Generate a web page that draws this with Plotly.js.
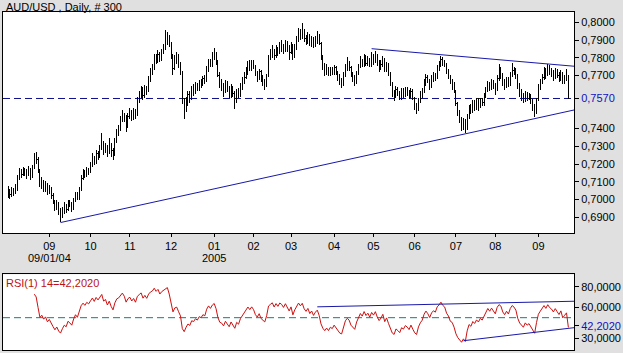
<!DOCTYPE html>
<html><head><meta charset="utf-8">
<script src="https://cdn.plot.ly/plotly-3.0.1.min.js"></script>
<style>html,body{margin:0;padding:0;background:#e0e0e0}#chart{width:623px;height:353px}
#chart .ohlc path{shape-rendering:crispEdges}</style>
</head><body><div id="chart"></div>
<script>
// ---- DATA ----
const firstDate = '2004-08-02';
const firstOpen = 0.7040;
const closes = [
0.7045,0.7030,0.7052,0.7040,0.7060,0.7125,0.7158,0.7140,0.7165,0.7150,
0.7140,0.7172,0.7125,0.7180,0.7240,0.7225,0.7160,0.7080,0.7100,0.7065,
0.7085,0.7040,0.7060,0.7020,0.6990,0.6955,0.6975,0.6930,0.6905,0.6935,
0.6960,0.6945,0.6985,0.6970,0.6950,0.6995,0.7030,0.7010,0.7055,0.7120,
0.7150,0.7135,0.7170,0.7160,0.7195,0.7230,0.7210,0.7260,0.7245,0.7290,
0.7320,0.7280,0.7300,0.7265,0.7310,0.7275,0.7250,0.7330,0.7385,0.7400,
0.7450,0.7480,0.7460,0.7420,0.7470,0.7490,0.7465,0.7500,0.7475,0.7560,
0.7590,0.7620,0.7585,0.7630,0.7610,0.7680,0.7720,0.7740,0.7800,0.7780,
0.7820,0.7790,0.7835,0.7860,0.7890,0.7920,0.7880,0.7810,0.7740,0.7790,
0.7800,0.7760,0.7720,0.7560,0.7510,0.7555,0.7590,0.7570,0.7620,0.7610,
0.7640,0.7625,0.7660,0.7650,0.7680,0.7670,0.7740,0.7780,0.7760,0.7800,
0.7820,0.7780,0.7700,0.7650,0.7640,0.7610,0.7650,0.7620,0.7590,0.7630,
0.7600,0.7560,0.7610,0.7590,0.7640,0.7670,0.7690,0.7720,0.7760,0.7740,
0.7770,0.7750,0.7710,0.7690,0.7720,0.7680,0.7660,0.7650,0.7700,0.7800,
0.7820,0.7840,0.7810,0.7850,0.7830,0.7870,0.7860,0.7840,0.7880,0.7850,
0.7830,0.7870,0.7810,0.7860,0.7900,0.7940,0.7920,0.7950,0.7910,0.7890,
0.7920,0.7880,0.7905,0.7870,0.7900,0.7920,0.7880,0.7800,0.7750,0.7720,
0.7740,0.7710,0.7735,0.7720,0.7745,0.7715,0.7690,0.7660,0.7650,0.7700,
0.7740,0.7760,0.7745,0.7700,0.7680,0.7660,0.7710,0.7750,0.7780,0.7760,
0.7800,0.7770,0.7790,0.7760,0.7800,0.7780,0.7810,0.7770,0.7740,0.7760,
0.7790,0.7730,0.7760,0.7710,0.7650,0.7600,0.7580,0.7620,0.7600,0.7575,
0.7610,0.7595,0.7620,0.7605,0.7580,0.7610,0.7570,0.7530,0.7510,0.7560,
0.7590,0.7610,0.7660,0.7690,0.7670,0.7640,0.7680,0.7700,0.7690,0.7740,
0.7760,0.7790,0.7770,0.7760,0.7720,0.7700,0.7660,0.7650,0.7610,0.7540,
0.7490,0.7450,0.7420,0.7440,0.7400,0.7470,0.7520,0.7500,0.7540,0.7520,
0.7550,0.7530,0.7560,0.7545,0.7580,0.7620,0.7650,0.7630,0.7660,0.7640,
0.7620,0.7680,0.7710,0.7700,0.7660,0.7640,0.7670,0.7650,0.7700,0.7730,
0.7720,0.7700,0.7640,0.7600,0.7580,0.7560,0.7590,0.7570,0.7580,0.7550,
0.7520,0.7490,0.7560,0.7630,0.7660,0.7690,0.7720,0.7700,0.7740,0.7720,
0.7710,0.7690,0.7720,0.7700,0.7680,0.7710,0.7660,0.7680,0.7700,0.7570];
const highs = [
0.7075,0.7060,0.7070,0.7065,0.7085,0.7140,0.7175,0.7170,0.7185,0.7180,
0.7170,0.7190,0.7180,0.7195,0.7265,0.7270,0.7240,0.7170,0.7125,0.7110,
0.7105,0.7095,0.7080,0.7070,0.7035,0.7000,0.6995,0.6985,0.6950,0.6960,
0.6985,0.6975,0.7000,0.7000,0.6985,0.7010,0.7045,0.7045,0.7070,0.7140,
0.7170,0.7165,0.7185,0.7180,0.7210,0.7260,0.7245,0.7280,0.7275,0.7310,
0.7375,0.7330,0.7320,0.7310,0.7345,0.7320,0.7290,0.7345,0.7400,0.7420,
0.7470,0.7505,0.7490,0.7475,0.7490,0.7515,0.7505,0.7515,0.7510,0.7580,
0.7615,0.7640,0.7635,0.7645,0.7640,0.7695,0.7740,0.7765,0.7820,0.7820,
0.7845,0.7830,0.7850,0.7880,0.7955,0.7945,0.7930,0.7890,0.7820,0.7815,
0.7830,0.7820,0.7775,0.7725,0.7575,0.7580,0.7615,0.7610,0.7640,0.7650,
0.7665,0.7655,0.7675,0.7680,0.7695,0.7700,0.7755,0.7795,0.7795,0.7830,
0.7855,0.7835,0.7790,0.7720,0.7680,0.7660,0.7675,0.7670,0.7640,0.7650,
0.7640,0.7615,0.7625,0.7630,0.7660,0.7690,0.7720,0.7745,0.7780,0.7785,
0.7790,0.7785,0.7760,0.7725,0.7735,0.7730,0.7700,0.7680,0.7710,0.7815,
0.7850,0.7870,0.7850,0.7870,0.7860,0.7890,0.7900,0.7875,0.7900,0.7895,
0.7870,0.7890,0.7875,0.7875,0.7920,0.7965,0.7960,0.7995,0.7960,0.7930,
0.7945,0.7935,0.7925,0.7915,0.7920,0.7950,0.7935,0.7890,0.7815,0.7770,
0.7765,0.7750,0.7750,0.7750,0.7760,0.7755,0.7725,0.7710,0.7685,0.7720,
0.7765,0.7805,0.7780,0.7755,0.7720,0.7700,0.7725,0.7765,0.7810,0.7795,
0.7820,0.7815,0.7810,0.7800,0.7830,0.7820,0.7840,0.7820,0.7790,0.7785,
0.7810,0.7800,0.7775,0.7770,0.7720,0.7665,0.7620,0.7640,0.7635,0.7610,
0.7630,0.7630,0.7635,0.7635,0.7620,0.7630,0.7625,0.7580,0.7545,0.7575,
0.7610,0.7630,0.7680,0.7710,0.7700,0.7680,0.7700,0.7720,0.7715,0.7760,
0.7780,0.7810,0.7805,0.7790,0.7770,0.7735,0.7705,0.7680,0.7665,0.7620,
0.7550,0.7505,0.7465,0.7460,0.7455,0.7480,0.7535,0.7540,0.7560,0.7560,
0.7570,0.7575,0.7575,0.7575,0.7600,0.7635,0.7670,0.7665,0.7680,0.7675,
0.7660,0.7700,0.7765,0.7745,0.7715,0.7680,0.7690,0.7690,0.7720,0.7770,
0.7750,0.7740,0.7710,0.7655,0.7625,0.7600,0.7610,0.7605,0.7600,0.7595,
0.7565,0.7540,0.7575,0.7650,0.7680,0.7710,0.7745,0.7740,0.7765,0.7760,
0.7740,0.7730,0.7740,0.7735,0.7720,0.7730,0.7720,0.7700,0.7735,0.7690];
const lows = [
0.7010,0.7005,0.7015,0.7020,0.7030,0.7050,0.7110,0.7120,0.7130,0.7135,
0.7115,0.7130,0.7110,0.7120,0.7170,0.7200,0.7150,0.7070,0.7060,0.7040,
0.7045,0.7025,0.7030,0.7005,0.6975,0.6935,0.6940,0.6915,0.6875,0.6895,
0.6920,0.6925,0.6935,0.6955,0.6930,0.6940,0.6985,0.6995,0.7000,0.7050,
0.7110,0.7120,0.7125,0.7140,0.7150,0.7185,0.7195,0.7200,0.7225,0.7235,
0.7280,0.7250,0.7265,0.7240,0.7255,0.7240,0.7225,0.7245,0.7320,0.7360,
0.7385,0.7435,0.7440,0.7380,0.7405,0.7455,0.7445,0.7450,0.7455,0.7470,
0.7545,0.7575,0.7560,0.7575,0.7590,0.7605,0.7665,0.7700,0.7730,0.7765,
0.7770,0.7775,0.7780,0.7820,0.7845,0.7870,0.7860,0.7795,0.7700,0.7730,
0.7765,0.7740,0.7700,0.7540,0.7455,0.7495,0.7530,0.7545,0.7560,0.7585,
0.7595,0.7610,0.7615,0.7630,0.7640,0.7650,0.7665,0.7720,0.7745,0.7750,
0.7790,0.7760,0.7690,0.7630,0.7615,0.7580,0.7600,0.7605,0.7570,0.7575,
0.7580,0.7510,0.7545,0.7570,0.7580,0.7620,0.7650,0.7680,0.7705,0.7725,
0.7725,0.7735,0.7695,0.7665,0.7675,0.7665,0.7640,0.7620,0.7635,0.7690,
0.7785,0.7800,0.7790,0.7800,0.7810,0.7820,0.7835,0.7820,0.7830,0.7830,
0.7790,0.7820,0.7785,0.7800,0.7845,0.7890,0.7900,0.7905,0.7890,0.7870,
0.7875,0.7865,0.7860,0.7855,0.7860,0.7880,0.7870,0.7785,0.7730,0.7695,
0.7700,0.7695,0.7695,0.7700,0.7705,0.7700,0.7670,0.7645,0.7630,0.7640,
0.7690,0.7725,0.7725,0.7690,0.7665,0.7640,0.7650,0.7700,0.7740,0.7745,
0.7745,0.7755,0.7755,0.7745,0.7750,0.7760,0.7770,0.7755,0.7720,0.7730,
0.7745,0.7720,0.7720,0.7695,0.7640,0.7580,0.7555,0.7570,0.7585,0.7560,
0.7560,0.7575,0.7580,0.7585,0.7565,0.7570,0.7560,0.7505,0.7485,0.7500,
0.7545,0.7570,0.7600,0.7640,0.7655,0.7620,0.7630,0.7665,0.7670,0.7680,
0.7725,0.7750,0.7755,0.7745,0.7710,0.7680,0.7650,0.7620,0.7600,0.7530,
0.7470,0.7430,0.7385,0.7395,0.7375,0.7395,0.7455,0.7480,0.7490,0.7500,
0.7505,0.7500,0.7515,0.7525,0.7530,0.7570,0.7605,0.7615,0.7620,0.7625,
0.7590,0.7610,0.7670,0.7680,0.7640,0.7620,0.7630,0.7635,0.7640,0.7690,
0.7700,0.7680,0.7625,0.7580,0.7555,0.7545,0.7550,0.7555,0.7560,0.7540,
0.7500,0.7465,0.7480,0.7555,0.7620,0.7650,0.7675,0.7680,0.7695,0.7705,
0.7690,0.7670,0.7680,0.7685,0.7665,0.7670,0.7650,0.7650,0.7670,0.7565];
const monthLabels = ['09','10','11','12','01','02','03','04','05','06','07','08','09'];
const subLabels   = ['09/01/04','','','','2005','','','','','','','',''];
const priceTicks = [0.69,0.70,0.71,0.72,0.73,0.74,0.77,0.78,0.79,0.80];
const rsiTicks = [30,60,80];
const rsiPeriod = 14;
const rsiMid = 50;
const rsiLabelValue = 42.2020;
const titleText = 'AUD/USD , Daily, # 300';
const rsiLabelText = 'RSI(1) 14=42,2020';
// analyst trend lines (bar index, value)
const supportX = [28, 302],   supportY = [0.6870, 0.7505];
const resistX  = [194, 302],  resistY  = [0.7851, 0.7752];
const rsiUpX   = [165, 302],  rsiUpY   = [60.5, 65.9];
const rsiLowX  = [243, 302],  rsiLowY  = [27.7, 40.3];

// ---- derived ----
const n = closes.length;
const idx = closes.map((_, i) => i);
const opens = closes.map((c, i) => i === 0 ? firstOpen : closes[i - 1]);
const hi = highs.map((h, i) => Math.max(h, opens[i], closes[i]));
const lo = lows.map((l, i) => Math.min(l, opens[i], closes[i]));
const dates = [];
{ const d = new Date(firstDate + 'T00:00:00Z');
  while (dates.length < n) { const w = d.getUTCDay(); if (w !== 0 && w !== 6) dates.push(new Date(d)); d.setUTCDate(d.getUTCDate() + 1); } }
const monthIdx = [];
for (let i = 1; i < n; i++) if (dates[i].getUTCMonth() !== dates[i - 1].getUTCMonth()) monthIdx.push(i);
// RSI (Wilder)
const rsi = new Array(n).fill(null);
{ let g = 0, l = 0;
  for (let i = 1; i <= rsiPeriod; i++) { const d = closes[i] - closes[i - 1]; g += Math.max(d, 0); l += Math.max(-d, 0); }
  g /= rsiPeriod; l /= rsiPeriod; rsi[rsiPeriod] = 100 - 100 / (1 + g / l);
  for (let i = rsiPeriod + 1; i < n; i++) { const d = closes[i] - closes[i - 1];
    g = (g * (rsiPeriod - 1) + Math.max(d, 0)) / rsiPeriod; l = (l * (rsiPeriod - 1) + Math.max(-d, 0)) / rsiPeriod;
    rsi[i] = 100 - 100 / (1 + g / l); } }

const lastClose = closes[n - 1];
const fmt = v => v.toFixed(4).replace('.', ',');
const pTickVals = priceTicks.concat([lastClose]);
const pTickText = priceTicks.map(fmt).concat(['<span style="color:#1010c0">' + fmt(lastClose) + '</span>']);
const rTickVals = rsiTicks.concat([rsiLabelValue]);
const rTickText = rsiTicks.map(fmt).concat(['<span style="color:#1010c0">' + fmt(rsiLabelValue) + '</span>']);

const W = 623, H = 353;
const xl = 3 / W, xr = 574 / W;
const mainDom = [1 - 233 / H, 1 - 12 / H];
const rsiDom = [1 - 350 / H, 1 - 274.3 / H];
const blue = '#1818a8';

const traces = [
  { type: 'ohlc', x: idx, open: opens, high: hi, low: lo, close: closes, xaxis: 'x', yaxis: 'y',
    increasing: { line: { color: '#000', width: 1 } }, decreasing: { line: { color: '#000', width: 1 } },
    tickwidth: 0.3, hoverinfo: 'skip', showlegend: false },
  { type: 'scatter', mode: 'lines', x: supportX, y: supportY, line: { color: blue, width: 1 }, xaxis: 'x', yaxis: 'y', hoverinfo: 'skip', showlegend: false },
  { type: 'scatter', mode: 'lines', x: resistX, y: resistY, line: { color: blue, width: 1 }, xaxis: 'x', yaxis: 'y', hoverinfo: 'skip', showlegend: false },
  { type: 'scatter', mode: 'lines', x: idx, y: rsi, line: { color: '#cc1010', width: 1 }, xaxis: 'x2', yaxis: 'y2', hoverinfo: 'skip', showlegend: false, connectgaps: false },
  { type: 'scatter', mode: 'lines', x: rsiUpX, y: rsiUpY, line: { color: blue, width: 1 }, xaxis: 'x2', yaxis: 'y2', hoverinfo: 'skip', showlegend: false },
  { type: 'scatter', mode: 'lines', x: rsiLowX, y: rsiLowY, line: { color: blue, width: 1 }, xaxis: 'x2', yaxis: 'y2', hoverinfo: 'skip', showlegend: false }
];

const font = { family: 'Liberation Sans, Arial, sans-serif', size: 11, color: '#000' };
const xRange = [-2.7, 302];
const annotations = [
  { xref: 'paper', yref: 'paper', x: 4 / W, y: 1 - 7 / H, xanchor: 'left', yanchor: 'middle', text: titleText, showarrow: false, font: font },
  { xref: 'paper', yref: 'paper', x: 4 / W, y: 1 - 283 / H, xanchor: 'left', yanchor: 'middle', text: rsiLabelText, showarrow: false, font: { family: font.family, size: 11, color: '#c01010' } }
];
subLabels.forEach((t, k) => { if (t) annotations.push({ xref: 'x', yref: 'paper', x: monthIdx[k], y: 1 - 258 / H, xanchor: 'center', yanchor: 'middle', borderpad: 0, text: t, showarrow: false, font: font }); });

const layout = {
  width: W, height: H, margin: { l: 0, r: 0, t: 0, b: 0 },
  paper_bgcolor: '#e0e0e0', plot_bgcolor: '#ffffff', font: font, separators: ',.',
  showlegend: false, hovermode: false, dragmode: false,
  xaxis: { domain: [xl, xr], range: xRange, anchor: 'y', rangeslider: { visible: false },
    tickmode: 'array', tickvals: monthIdx, ticktext: monthLabels, ticks: 'outside', ticklen: 3, tickcolor: '#000',
    showgrid: false, zeroline: false, showline: true, mirror: true, linecolor: '#000', linewidth: 1, tickfont: font },
  yaxis: { domain: mainDom, range: [0.6811, 0.8058], side: 'right', anchor: 'x',
    tickmode: 'array', tickvals: pTickVals, ticktext: pTickText, ticks: 'outside', ticklen: 4, tickcolor: '#000',
    showgrid: false, zeroline: false, showline: true, mirror: true, linecolor: '#000', linewidth: 1, tickfont: font },
  xaxis2: { domain: [xl, xr], range: xRange, anchor: 'y2', showticklabels: false, ticks: '',
    showgrid: false, zeroline: false, showline: true, mirror: true, linecolor: '#000', linewidth: 1 },
  yaxis2: { domain: rsiDom, range: [18.7, 92], side: 'right', anchor: 'x2',
    tickmode: 'array', tickvals: rTickVals, ticktext: rTickText, ticks: 'outside', ticklen: 4, tickcolor: '#000',
    showgrid: false, zeroline: false, showline: true, mirror: true, linecolor: '#000', linewidth: 1, tickfont: font },
  shapes: [
    { type: 'line', xref: 'x domain', yref: 'y', x0: 0, x1: 1, y0: lastClose, y1: lastClose, line: { color: '#101090', width: 1, dash: '7px,4px' }, layer: 'below' },
    { type: 'line', xref: 'x2 domain', yref: 'y2', x0: 0, x1: 1, y0: rsiMid, y1: rsiMid, line: { color: '#108080', width: 1, dash: '7px,4px' }, layer: 'below' }
  ],
  annotations: annotations
};
Plotly.newPlot('chart', traces, layout, { staticPlot: true, displayModeBar: false });
</script></body></html>
